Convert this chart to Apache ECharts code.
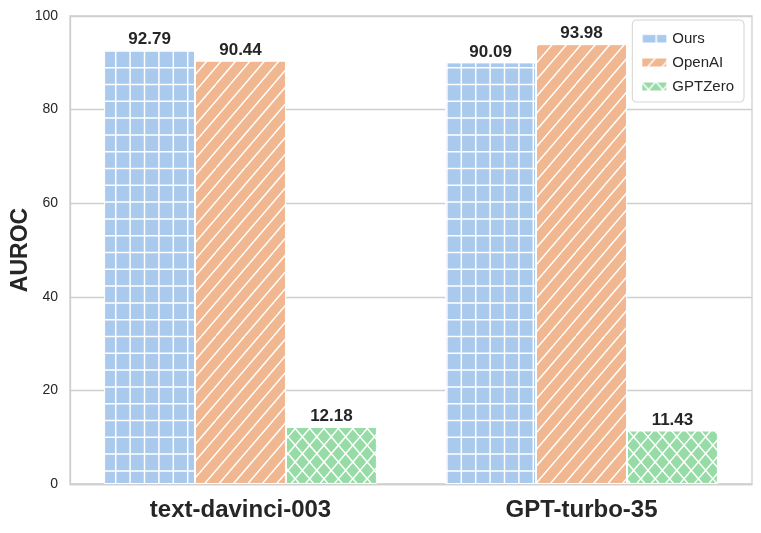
<!DOCTYPE html>
<html>
<head>
<meta charset="utf-8">
<script src="https://cdn.jsdelivr.net/npm/echarts@6/dist/echarts.min.js"></script>
<style>
html,body{margin:0;padding:0;background:#fff;}
#chart{width:761px;height:533px;}
</style>
</head>
<body>
<div id="chart"></div>
<script>
const categories = ['text-davinci-003', 'GPT-turbo-35'];
const seriesNames = ['Ours', 'OpenAI', 'GPTZero'];
const oursValues = [92.79, 90.09];
const openaiValues = [90.44, 93.98];
const gptzeroValues = [12.18, 11.43];
const yTicks = [0, 20, 40, 60, 80, 100];

const colors = ['#a9c9ed', '#f0b791', '#97dba6'];

function makePattern(bg, kind) {
  const n = 5, cw = 14.4, ch = 16.7;
  const W = Math.round(cw * n), H = Math.round(ch * n);
  const c = document.createElement('canvas');
  c.width = W; c.height = H;
  const g = c.getContext('2d');
  g.fillStyle = bg;
  g.fillRect(0, 0, W, H);
  g.strokeStyle = '#ffffff';
  g.lineWidth = 1.5;
  const sx = W / n, sy = H / n;
  g.beginPath();
  if (kind === 'grid') {
    for (let i = 0; i <= n; i++) {
      g.moveTo(i * sx + 0.5, 0); g.lineTo(i * sx + 0.5, H);
      g.moveTo(0, i * sy + 0.5); g.lineTo(W, i * sy + 0.5);
    }
  } else {
    for (let i = -n; i <= 2 * n; i++) {
      g.moveTo(i * sx, H); g.lineTo(i * sx + W, 0);
      if (kind === 'x') {
        g.moveTo(i * sx, 0); g.lineTo(i * sx + W, H);
      }
    }
  }
  g.stroke();
  return { image: c, repeat: 'repeat' };
}

const patterns = [
  makePattern(colors[0], 'grid'),
  makePattern(colors[1], 'slash'),
  makePattern(colors[2], 'x')
];

const dataSets = [oursValues, openaiValues, gptzeroValues];

const chart = echarts.init(document.getElementById('chart'), null, { renderer: 'canvas' });

const series = seriesNames.map((name, i) => ({
  name: name,
  type: 'bar',
  data: dataSets[i],
  barGap: '0%',
  barCategoryGap: '20%',
  itemStyle: { color: patterns[i], borderColor: '#ffffff', borderWidth: 1 },
  label: {
    show: true,
    position: 'top',
    distance: 2,
    formatter: p => p.value.toFixed(2),
    fontFamily: 'Liberation Sans, Arial, sans-serif',
    fontWeight: 'bold',
    fontSize: 17,
    color: '#262626'
  },
  emphasis: { disabled: true }
}));

chart.setOption({
  animation: false,
  backgroundColor: '#ffffff',
  grid: {
    left: 70, right: 9, top: 16, bottom: 49,
    show: true, borderColor: '#cfcfcf', borderWidth: 1.3,
    containLabel: false, outerBoundsMode: 'none'
  },
  legend: {
    orient: 'vertical',
    right: 17,
    top: 20,
    padding: [11, 10, 8, 8],
    itemWidth: 26,
    itemHeight: 10,
    itemGap: 9,
    borderColor: '#d4d4d4',
    borderWidth: 1,
    borderRadius: 4,
    backgroundColor: '#ffffff',
    textStyle: { fontFamily: 'Liberation Sans, Arial, sans-serif', fontSize: 15, color: '#262626' },
    data: seriesNames.map(n => ({ name: n, icon: 'rect' }))
  },
  xAxis: {
    type: 'category',
    data: categories,
    axisTick: { show: false },
    axisLine: { lineStyle: { color: '#cfcfcf', width: 1.3 } },
    axisLabel: {
      margin: 14,
      fontFamily: 'Liberation Sans, Arial, sans-serif',
      fontWeight: 'bold',
      fontSize: 24,
      color: '#262626'
    }
  },
  yAxis: {
    type: 'value',
    min: yTicks[0],
    max: yTicks[yTicks.length - 1],
    interval: yTicks[1] - yTicks[0],
    name: 'AUROC',
    nameLocation: 'middle',
    nameGap: 38,
    nameMoveOverlap: false,
    nameTextStyle: {
      fontFamily: 'Liberation Sans, Arial, sans-serif',
      fontWeight: 'bold',
      fontSize: 23,
      color: '#262626'
    },
    axisLine: { show: true, lineStyle: { color: '#cfcfcf', width: 1.3 } },
    axisTick: { show: false },
    splitLine: { lineStyle: { color: '#cfcfcf', width: 1.3 } },
    axisLabel: {
      margin: 12,
      fontFamily: 'Liberation Sans, Arial, sans-serif',
      fontSize: 14,
      color: '#262626'
    }
  },
  series: series
});
</script>
</body>
</html>
